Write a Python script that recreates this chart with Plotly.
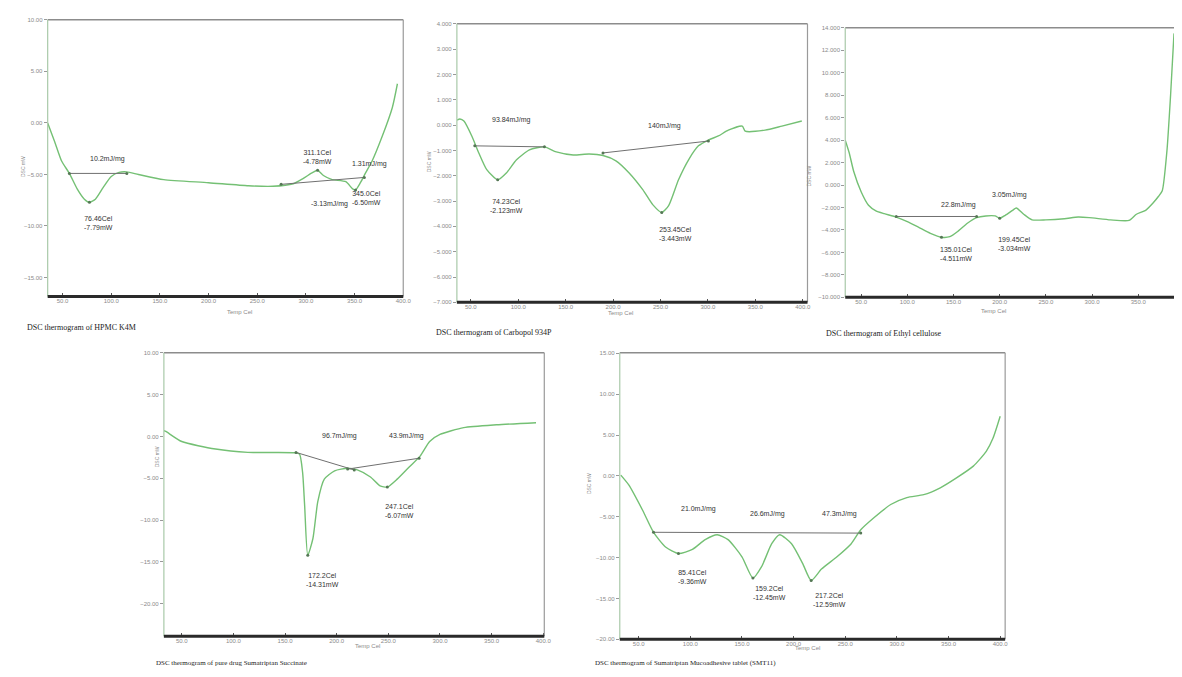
import plotly.graph_objects as go

W, H = 1182, 677

# ---------------- data ----------------
# Panel 1: HPMC K4M
p1_temp = [34.7, 41.8, 49, 57, 65, 72.4, 77.6, 83.7, 91.8, 100, 108, 116, 128, 154, 200, 241, 266,
           287, 297, 307, 312, 318, 327, 341, 348, 351, 356, 361, 368, 378, 388.8, 394]
p1_flow = [0.0, -1.8, -3.7, -4.9, -6.4, -7.4, -7.7, -7.4, -6.25, -5.2, -4.8, -4.75, -5.0, -5.5, -5.8, -6.1, -6.15,
           -5.9, -5.4, -4.8, -4.6, -5.1, -5.5, -5.7, -6.4, -6.5, -5.8, -4.9, -3.7, -1.4, 1.5, 3.8]
p1_base_temp = [[57, 116], [274.5, 360]]
p1_base_flow = [[-4.9, -4.9], [-5.96, -5.29]]
p1_peak_temp = [77.6, 312, 351]
p1_peak_flow = [-7.7, -4.6, -6.5]
p1_labels = ["10.2mJ/mg", "76.46Cel<br>-7.79mW", "311.1Cel<br>-4.78mW", "1.31mJ/mg", "-3.13mJ/mg", "345.0Cel<br>-6.50mW"]

# Panel 2: Carbopol 934P
p2_temp = [35.5, 38.5, 42.7, 51, 58.4, 66.8, 78.3, 87.7, 98.2, 111.8, 127.6, 140.1, 158, 174.7, 189.4, 203,
           216.7, 231.3, 241.8, 251.3, 258.6, 269, 279.6, 290, 300.5, 311, 321.5, 336.2, 339.3, 360.3, 378, 399]
p2_flow = [0.2, 0.24, 0.16, -0.43, -1.1, -1.76, -2.16, -1.88, -1.37, -0.98, -0.86, -1.06, -1.18, -1.14, -1.2, -1.41,
           -1.88, -2.55, -3.14, -3.45, -3.18, -2.16, -1.37, -0.82, -0.59, -0.43, -0.2, -0.04, -0.24, -0.2, -0.04, 0.16]
p2_base_temp = [[54.2, 127.6], [189.4, 300.5]]
p2_base_flow = [[-0.82, -0.86], [-1.1, -0.63]]
p2_peak_temp = [78.3, 251.3]
p2_peak_flow = [-2.16, -3.45]
p2_labels = ["93.84mJ/mg", "140mJ/mg", "74.23Cel<br>-2.123mW", "253.45Cel<br>-3.443mW"]

# Panel 3: Ethyl cellulose
p3_temp = [32.8, 37, 42, 50, 58, 66, 75, 88, 100, 112, 125, 137, 146, 155, 165, 175, 185, 195, 200, 206,
           214, 218, 226, 235, 250, 270, 285, 297, 320, 340, 348, 358, 366, 372, 376, 381, 385, 388.7]
p3_flow = [4.0, 2.9, 1.2, -0.6, -1.8, -2.3, -2.55, -2.85, -3.25, -3.75, -4.3, -4.65, -4.6, -4.1, -3.4, -2.9,
           -2.75, -2.75, -2.95, -2.7, -2.25, -2.05, -2.6, -3.1, -3.1, -3.0, -2.85, -2.9, -3.1, -3.15, -2.6,
           -2.25, -1.6, -1.0, -0.5, 3.0, 8.0, 13.5]
p3_base_temp = [[88, 175]]
p3_base_flow = [[-2.8, -2.8]]
p3_peak_temp = [137, 200]
p3_peak_flow = [-4.65, -2.95]
p3_labels = ["22.8mJ/mg", "3.05mJ/mg", "135.01Cel<br>-4.511mW", "199.45Cel<br>-3.034mW"]

# Panel 4: pure drug Sumatriptan Succinate
p4_temp = [32.7, 34.6, 50, 82.7, 114, 159.6, 164, 167, 169, 172, 177, 181.7, 188, 198, 210.6, 220, 232.7, 242,
           249, 258.6, 271, 280.8, 290, 300, 323, 354.8, 393]
p4_flow = [0.7, 0.6, -0.6, -1.5, -1.9, -1.95, -2.1, -4.3, -8.3, -14.2, -12.2, -7.8, -5.1, -4.1, -3.8, -4.0,
           -4.85, -5.9, -6.05, -5.1, -3.55, -2.35, -0.6, 0.24, 1.06, 1.4, 1.65]
p4_base_temp = [[160.6, 217], [210.6, 279.8]]
p4_base_flow = [[-1.9, -4.0], [-3.9, -2.6]]
p4_peak_temp = [172, 249]
p4_peak_flow = [-14.2, -6.05]
p4_labels = ["96.7mJ/mg", "43.9mJ/mg", "172.2Cel<br>-14.31mW", "247.1Cel<br>-6.07mW"]

# Panel 5: Sumatriptan mucoadhesive tablet
p5_temp = [32.7, 40.4, 53.8, 64.4, 76, 88.5, 102, 114.4, 126, 136.5, 150, 160.6, 169, 178.8, 186.5, 198,
           208.7, 217, 227, 242, 255.8, 265, 278, 294, 309.6, 326, 342, 357.7, 374, 386.5, 393, 400]
p5_flow = [0.1, -1.1, -4.2, -6.9, -8.7, -9.5, -9.0, -7.8, -7.2, -7.8, -9.9, -12.5, -11.1, -8.3, -7.2, -8.3,
           -10.7, -12.8, -11.4, -9.9, -8.3, -6.6, -5.1, -3.5, -2.65, -2.3, -1.45, -0.24, 1.2, 3.0, 4.6, 7.3]
p5_base_temp = [[64.4, 265]]
p5_base_flow = [[-6.9, -7.0]]
p5_peak_temp = [88.5, 160.6, 217]
p5_peak_flow = [-9.5, -12.5, -12.8]
p5_labels = ["21.0mJ/mg", "26.6mJ/mg", "47.3mJ/mg", "85.41Cel<br>-9.36mW", "159.2Cel<br>-12.45mW",
             "217.2Cel<br>-12.59mW"]

captions = ["DSC thermogram of HPMC K4M", "DSC thermogram of Carbopol 934P", "DSC thermogram of Ethyl cellulose",
            "DSC thermogram of pure drug Sumatriptan Succinate",
            "DSC thermogram of Sumatriptan Mucoadhesive tablet (SMT11)"]
x_ticks = [50, 100, 150, 200, 250, 300, 350, 400]

# ---------------- layout ----------------
panels = [
    dict(t=p1_temp, v=p1_flow, bt=p1_base_temp, bv=p1_base_flow, pt=p1_peak_temp, pv=p1_peak_flow,
         px=(48, 406), py=(17, 296), xr=[34.7, 400], yr=[-16.83, 10], yt=[-15, -10, -5, 0, 5, 10], yf=".2f",
         labels=p1_labels, lpos=[(95.9, -3.46), (86.7, -9.7), (312, -3.3), (365, -4.0), (324, -7.9), (362, -7.3)],
         ytitle=(18, 152), xtitle=(227, 312), cap=(25, 327), capsize=8, right=True),
    dict(t=p2_temp, v=p2_flow, bt=p2_base_temp, bv=p2_base_flow, pt=p2_peak_temp, pv=p2_peak_flow,
         px=(460, 813), py=(21, 302), xr=[35.3, 405], yr=[-7.0, 4.0], yt=list(range(-7, 5)), yf=".3f",
         labels=p2_labels, lpos=[(93, 0.2), (254, -0.04), (87.7, -3.18), (266, -4.31)],
         ytitle=(432, 148), xtitle=(625, 313), cap=(437, 332), capsize=8, right=True),
    dict(t=p3_temp, v=p3_flow, bt=p3_base_temp, bv=p3_base_flow, pt=p3_peak_temp, pv=p3_peak_flow,
         px=(851, 1182), py=(25, 297), xr=[32.8, 388.7], yr=[-10, 14], yt=list(range(-10, 15, 2)), yf=".3f",
         labels=p3_labels, lpos=[(155, -1.76), (211, -0.88), (153, -6.17), (215.6, -5.29)],
         ytitle=(820, 162), xtitle=(1015, 311), cap=(830, 333), capsize=8, right=False),
    dict(t=p4_temp, v=p4_flow, bt=p4_base_temp, bv=p4_base_flow, pt=p4_peak_temp, pv=p4_peak_flow,
         px=(165, 548), py=(353, 639), xr=[32.7, 401], yr=[-23.9, 10], yt=[-20, -15, -10, -5, 0, 5, 10], yf=".2f",
         labels=p4_labels, lpos=[(203, 0.0), (268, 0.0), (186.5, -17.2), (260.6, -8.9)],
         ytitle=(153, 470), xtitle=(355, 654), cap=(155, 672), capsize=7, right=True),
    dict(t=p5_temp, v=p5_flow, bt=p5_base_temp, bv=p5_base_flow, pt=p5_peak_temp, pv=p5_peak_flow,
         px=(624, 1012), py=(353, 642), xr=[31.7, 404.8], yr=[-20, 15.06], yt=[-20, -15, -10, -5, 0, 5, 10, 15],
         yf=".2f", labels=p5_labels,
         lpos=[(107.7, -4.1), (175, -4.7), (244, -4.7), (102, -12.4), (177, -14.3), (234.6, -15.2)],
         ytitle=(593, 497), xtitle=(828, 656), cap=(597, 672), capsize=7, right=True),
]

CURVE = "#74c074"
BASE = "#707070"
TICKC = "#8a8a8a"

fig = go.Figure()
layout = dict(width=W, height=H, margin=dict(l=0, r=0, t=0, b=0), paper_bgcolor="white",
              plot_bgcolor="white", showlegend=False, annotations=[], shapes=[])

for i, p in enumerate(panels, start=1):
    xa = "x" if i == 1 else f"x{i}"
    ya = "y" if i == 1 else f"y{i}"
    xk = "xaxis" if i == 1 else f"xaxis{i}"
    yk = "yaxis" if i == 1 else f"yaxis{i}"
    dx = [p["px"][0] / W, p["px"][1] / W]
    dy = [1 - p["py"][1] / H, 1 - p["py"][0] / H]
    layout[xk] = dict(domain=dx, range=p["xr"], anchor=ya, tickvals=x_ticks, tickformat=".1f",
                      showgrid=False, zeroline=False, showline=False, ticks="inside", ticklen=3,
                      tickcolor="#555", tickfont=dict(size=6, color=TICKC, family="Arial"))
    layout[yk] = dict(domain=dy, range=p["yr"], anchor=xa, tickvals=p["yt"], tickformat=p["yf"],
                      showgrid=False, zeroline=False, showline=False, ticks="outside", ticklen=3,
                      tickcolor="#999", tickfont=dict(size=6, color=TICKC, family="Arial"))
    # curve
    fig.add_trace(go.Scatter(x=p["t"], y=p["v"], mode="lines",
                             line=dict(color=CURVE, width=1.4, shape="spline", smoothing=0.6),
                             xaxis=xa, yaxis=ya, hoverinfo="skip"))
    for bt, bv in zip(p["bt"], p["bv"]):
        fig.add_trace(go.Scatter(x=bt, y=bv, mode="lines+markers", line=dict(color=BASE, width=1),
                                 marker=dict(size=3, color="#557755"), xaxis=xa, yaxis=ya, hoverinfo="skip"))
    fig.add_trace(go.Scatter(x=p["pt"], y=p["pv"], mode="markers", marker=dict(size=3, color="#557755"),
                             xaxis=xa, yaxis=ya, hoverinfo="skip"))
    # frame
    xd = f"{xa} domain"
    yd = f"{ya} domain"
    layout["shapes"].append(dict(type="line", xref=xd, yref=yd, x0=0, x1=1, y0=1, y1=1,
                                 line=dict(color="#8c8c8c", width=1.5)))
    if p["right"]:
        layout["shapes"].append(dict(type="line", xref=xd, yref=yd, x0=1, x1=1, y0=0, y1=1,
                                     line=dict(color="#9a9a9a", width=1.2)))
    layout["shapes"].append(dict(type="line", xref=xd, yref=yd, x0=0, x1=0, y0=0, y1=1,
                                 line=dict(color="#a9c9a9", width=1.2)))
    layout["shapes"].append(dict(type="line", xref=xd, yref=yd, x0=0, x1=1, y0=0, y1=0,
                                 line=dict(color="#2a2a2a", width=3)))
    # value labels
    for txt, (lx, ly) in zip(p["labels"], p["lpos"]):
        layout["annotations"].append(dict(x=lx, y=ly, xref=xa, yref=ya, text=txt, showarrow=False,
                                          font=dict(size=7, color="#333", family="Arial"),
                                          align="center"))
    # axis titles
    layout["annotations"].append(dict(x=p["ytitle"][0] / W, y=1 - p["ytitle"][1] / H, xref="paper", yref="paper",
                                      text="DSC mW", textangle=-90, showarrow=False,
                                      font=dict(size=5, color=TICKC, family="Arial")))
    layout["annotations"].append(dict(x=p["xtitle"][0] / W, y=1 - p["xtitle"][1] / H, xref="paper", yref="paper",
                                      text="Temp Cel", showarrow=False,
                                      font=dict(size=6, color=TICKC, family="Arial")))
    layout["annotations"].append(dict(x=p["cap"][0] / W, y=1 - p["cap"][1] / H, xref="paper", yref="paper",
                                      text=captions[i - 1], showarrow=False, xanchor="left",
                                      font=dict(size=p["capsize"], color="#222", family="Liberation Serif")))

fig.update_layout(**layout)
fig.write_html("out.html")
